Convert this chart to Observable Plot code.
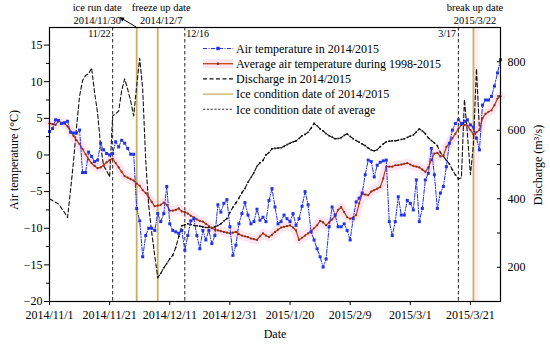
<!DOCTYPE html>
<html><head><meta charset="utf-8">
<script src="https://cdn.jsdelivr.net/npm/d3@7"></script>
<script src="https://cdn.jsdelivr.net/npm/@observablehq/plot@0.6"></script>
<style>
body{margin:0;background:#fff;}
#chart svg text{font-family:"Liberation Serif","Times New Roman",serif;}
</style></head><body><div id="chart"></div>
<script>
// ---------- data ----------
const startDate = "2014-11-01";   // first day of the daily series
const endDate = "2015-03-31";
const airTemp = [3.2,3.6,4.8,4.7,4.3,4.4,4.6,3.1,3.0,3.0,
 3.4,-2.4,-2.4,0.4,-0.2,-0.9,-0.7,1.6,0.7,0.2,
 0.0,0.2,1.8,1.1,2.0,1.6,0.9,0.1,0.1,-7.3,
 -9.0,-13.9,-11.0,-10.0,-10.0,-10.3,-8.0,-9.1,-8.0,-4.3,
 -9.4,-10.3,-10.5,-10.7,-10.3,-13.0,-11.0,-9.0,-8.7,-11.0,
 -12.8,-10.3,-11.6,-10.3,-12.1,-11.0,-6.8,-7.8,-6.6,-6.1,
 -9.8,-13.7,-12.3,-9.4,-8.0,-6.5,-8.2,-9.4,-9.1,-7.4,
 -8.9,-8.5,-9.1,-6.2,-4.6,-7.1,-9.4,-9.1,-8.2,-8.7,
 -9.1,-8.0,-9.6,-8.7,-7.0,-5.0,-6.8,-10.5,-11.6,-12.8,
 -13.9,-15.3,-14.2,-9.8,-7.1,-8.2,-9.8,-9.8,-9.4,-10.3,
 -11.6,-8.7,-6.4,-5.9,-5.2,-2.7,-0.7,-0.9,-3.0,-1.4,
 -1.0,-0.8,-0.7,-9.1,-11.0,-9.1,-5.7,-8.2,-8.2,-6.2,
 -6.6,-7.5,-3.4,-9.1,-7.3,-3.4,-2.5,0.9,-2.7,-7.3,
 -5.2,-4.3,-1.6,1.6,3.4,4.3,4.8,4.3,4.6,4.8,
 4.1,3.8,2.3,0.7,6.8,7.5,7.5,8.0,9.4,11.2,13.0];
const avgTemp = [4.3,4.2,4.1,4.6,4.4,4.3,3.9,3.2,2.6,2.0,
 1.5,0.8,0.1,-0.6,-1.1,-1.5,-1.8,-1.7,-1.4,-1.0,
 -0.7,-0.5,-1.1,-1.7,-2.3,-2.9,-3.1,-3.3,-3.5,-3.9,
 -4.2,-4.8,-5.2,-5.8,-6.4,-7.0,-6.9,-6.8,-6.5,-6.8,
 -7.6,-7.6,-7.5,-7.3,-7.7,-7.8,-8.0,-8.3,-8.5,-8.8,
 -9.0,-9.1,-9.4,-9.7,-10.0,-10.2,-10.3,-10.4,-10.5,-10.6,
 -10.7,-10.6,-10.5,-10.8,-11.0,-11.1,-11.2,-11.4,-11.5,-11.6,
 -11.1,-10.7,-11.0,-11.2,-10.9,-10.5,-10.2,-9.9,-9.8,-9.7,
 -9.6,-9.9,-10.3,-11.6,-11.3,-11.0,-10.7,-10.4,-10.0,-9.6,
 -9.0,-9.2,-9.6,-9.2,-8.8,-8.3,-7.5,-7.1,-7.8,-8.5,
 -8.7,-8.5,-8.2,-6.6,-5.3,-5.4,-5.5,-5.0,-4.8,-4.6,
 -4.4,-3.2,-1.6,-1.6,-1.6,-1.4,-1.4,-1.3,-1.2,-1.1,
 -1.3,-1.5,-1.6,-1.7,-2.0,-2.3,-1.7,-0.7,0.2,0.3,
 -0.2,-0.1,1.1,1.6,2.3,2.9,3.6,4.1,4.1,4.0,
 3.4,2.8,3.1,3.4,5.0,5.6,5.9,6.1,6.8,7.7,8.0];
const discharge = [400,395,390,385,372,360,345,425,510,610,
 700,745,760,765,782,710,650,555,496,482,
 464,642,648,656,715,750,720,685,642,730,
 810,720,511,380,301,234,170,182,198,211,
 225,235,258,290,321,324,327,325,322,321,
 320,318,316,316,316,318,322,327,335,342,
 360,375,388,402,418,430,448,462,476,495,
 505,512,528,535,546,547,548,549,553,558,
 562,566,569,576,584,588,594,606,620,613,
 604,598,590,584,580,575,576,578,585,589,
 582,575,570,565,560,555,548,542,540,543,
 552,560,566,568,569,569,571,573,575,579,
 583,586,595,604,598,590,578,570,563,555,
 535,524,512,502,485,470,458,461,690,590,
 470,560,780,600];
const xTickDates = ["2014-11-01","2014-11-21","2014-12-11","2014-12-31","2015-01-20","2015-02-09","2015-03-01","2015-03-21"];
const xTickLabels = ["2014/11/1","2014/11/21","2014/12/11","2014/12/31","2015/1/20","2015/2/9","2015/3/1","2015/3/21"];
const iceDates2014 = ["2014-11-30","2014-12-07","2015-03-22"];
const eventNames = ["ice run date","freeze up date","break up date"];
const eventLabels = ["2014/11/30","2014/12/7","2015/3/22"];
const iceDatesAvg = ["2014-11-22","2014-12-16","2015-03-17"];
const avgDateLabels = ["11/22","12/16","3/17"];
const breakupBand = ["2015-03-22","2015-03-24"];
const leftTicks = [-20,-15,-10,-5,0,5,10,15];
const leftMinor = [-17.5,-12.5,-7.5,-2.5,2.5,7.5,12.5];
const rightTicks = [200,300,400,500,600,700,800];
const rightLabelled = [200,400,600,800];
const tempDomain = [-20,17.4];
const qDomain = [100,900];
const legendLabels = ["Air temperature in 2014/2015","Average air temperature during 1998-2015","Discharge in 2014/2015","Ice condition date of 2014/2015","Ice condition date of average"];

// ---------- helpers ----------
const day0 = new Date(startDate);
const dayAt = i => d3.utcDay.offset(day0, i);
const toT = q => tempDomain[0] + (q - qDomain[0]) * (tempDomain[1]-tempDomain[0])/(qDomain[1]-qDomain[0]);
const fromT = t => qDomain[0] + (t - tempDomain[0]) * (qDomain[1]-qDomain[0])/(tempDomain[1]-tempDomain[0]);
const tempRows = airTemp.map((v,i)=>({date: dayAt(i), air: v, avg: avgTemp[i]}));
const qRows = discharge.map((q,i)=>({date: dayAt(i), t: toT(q)}));
const tickDates = xTickDates.map(d=>new Date(d));

const BLUE="#2233e8", BROWN="#b8481c", GOLD="#c9b062", PINK="#ffd9ec";

const chart = Plot.plot({
  width: 550, height: 346,
  marginLeft: 49, marginRight: 50, marginTop: 27, marginBottom: 45,
  style: {fontFamily: "Liberation Serif, serif", fontSize: "12px", background: "#fff", color: "#000"},
  x: {type: "utc", domain: [new Date(startDate), new Date(endDate)]},
  y: {domain: tempDomain},
  marks: [
    Plot.rect([breakupBand], {x1: d=>new Date(d[0]), x2: d=>new Date(d[1]), fill: "#fdeef5"}),
    Plot.line(tempRows, {x:"date", y:"avg", stroke: PINK, strokeWidth: 9, strokeOpacity: 0.7}),
    Plot.ruleX(iceDatesAvg.map(d=>new Date(d)), {stroke:"#333", strokeWidth:1.1, strokeDasharray:"3.5,2.5"}),
    Plot.ruleX(iceDates2014.map(d=>new Date(d)), {stroke:GOLD, strokeWidth:1.8}),
    Plot.line(qRows, {x:"date", y:"t", stroke:"#111", strokeWidth:1.1, strokeDasharray:"4,2.5"}),
    Plot.dot(qRows.slice(36,137), {x:"date", y:"t", r:0.9, fill:"#111", symbol:"square"}),
    Plot.line(tempRows, {x:"date", y:"avg", stroke: BROWN, strokeWidth:1.3}),
    Plot.dot(tempRows, {x:"date", y:"avg", r:1.1, fill:"#8a2c10"}),
    Plot.line(tempRows, {x:"date", y:"air", stroke: BLUE, strokeWidth:1, strokeDasharray:"4,1.5,1,1.5"}),
    Plot.dot(tempRows, {x:"date", y:"air", r:1.7, fill: BLUE, symbol:"square"}),
    Plot.axisX(tickDates, {tickSize:4, tickPadding:5, label:null,
      tickFormat: d => xTickLabels[tickDates.findIndex(t=>+t===+d)]}),
    Plot.axisY(leftTicks, {anchor:"left", tickSize:5, tickPadding:2, label:null}),
    Plot.axisY(leftMinor, {anchor:"left", tickSize:3, tickFormat: ()=>"", label:null}),
    Plot.axisY(rightTicks.map(toT), {anchor:"right", tickSize:-4, tickPadding:11, label:null,
      tickFormat: t => { const q = Math.round(fromT(t)); return rightLabelled.includes(q) ? String(q) : ""; }}),
    Plot.frame({stroke:"#000", strokeWidth:1.2})
  ]
});
document.getElementById("chart").appendChild(chart);

// ---------- annotations ----------
const svg = d3.select(chart);
const X = chart.scale("x"), Y = chart.scale("y");
const px = d => X.apply(new Date(d));
const topY = Y.apply(tempDomain[1]);
const g = svg.append("g").attr("font-family","Liberation Serif, serif").attr("fill","#000").attr("text-anchor","start");

const nameDx = [-39, 4, 2];
iceDates2014.forEach((d,i)=>{
  g.append("text").attr("x", px(d)+nameDx[i]).attr("y", topY-19.5).attr("dy","0.35em")
   .attr("text-anchor","middle").attr("font-size",10.5).text(eventNames[i]);
  g.append("text").attr("x", px(d)+nameDx[i]).attr("y", topY-6.5).attr("dy","0.35em")
   .attr("text-anchor","middle").attr("font-size",10.5).text(eventLabels[i]);
});
// arrow from ice run date line top to its label
{
  const x0 = px(iceDates2014[0]), y0 = topY, x1 = x0-17, y1 = topY-10;
  g.append("line").attr("x1",x0).attr("y1",y0).attr("x2",x1+3).attr("y2",y1+1.8).attr("stroke","#000").attr("stroke-width",1);
  const ang = Math.atan2(y1-y0, x1-x0);
  const L=5, W=2.2;
  const bx = x1 - L*Math.cos(ang), by = y1 - L*Math.sin(ang);
  g.append("path").attr("d",`M${x1},${y1}L${bx - W*Math.sin(ang)},${by + W*Math.cos(ang)}L${bx + W*Math.sin(ang)},${by - W*Math.cos(ang)}Z`).attr("fill","#000");
}
const avgAnchor = ["end","start","end"], avgDx = [-1.5, 2, -2];
iceDatesAvg.forEach((d,i)=>{
  g.append("text").attr("x", px(d)+avgDx[i]).attr("y", topY+6.5).attr("dy","0.35em")
   .attr("text-anchor", avgAnchor[i]).attr("font-size",10).text(avgDateLabels[i]);
});

// axis titles
g.append("text").attr("transform","translate(14,160) rotate(-90)").attr("text-anchor","middle").attr("dy","0.35em")
 .attr("font-size",12).text("Air temperature (°C)");
g.append("text").attr("transform","translate(538,165) rotate(-90)").attr("text-anchor","middle").attr("dy","0.35em")
 .attr("font-size",12).text("Discharge (m³/s)");
g.append("text").attr("x",275).attr("y",338).attr("text-anchor","middle").attr("font-size",12).text("Date");

// legend
const lgX0 = 203, lgX1 = 233, lgY0 = 48.5, lgDY = 15.2;
legendLabels.forEach((lab,i)=>{
  const y = lgY0 + i*lgDY;
  const row = g.append("g");
  if (i===0) {
    row.append("line").attr("x1",lgX0).attr("x2",lgX1).attr("y1",y).attr("y2",y).attr("stroke",BLUE).attr("stroke-dasharray","4,1.5,1,1.5");
    row.append("rect").attr("x",(lgX0+lgX1)/2-1.7).attr("y",y-1.7).attr("width",3.4).attr("height",3.4).attr("fill",BLUE);
  } else if (i===1) {
    row.append("rect").attr("x",lgX0).attr("y",y-4.5).attr("width",lgX1-lgX0).attr("height",9).attr("fill",PINK).attr("opacity",0.7);
    row.append("line").attr("x1",lgX0).attr("x2",lgX1).attr("y1",y).attr("y2",y).attr("stroke",BROWN).attr("stroke-width",1.3);
    row.append("circle").attr("cx",(lgX0+lgX1)/2).attr("cy",y).attr("r",1.3).attr("fill","#8a2c10");
  } else if (i===2) {
    row.append("line").attr("x1",lgX0).attr("x2",lgX1).attr("y1",y).attr("y2",y).attr("stroke","#111").attr("stroke-width",1.1).attr("stroke-dasharray","4,2.5");
  } else if (i===3) {
    row.append("line").attr("x1",lgX0).attr("x2",lgX1).attr("y1",y).attr("y2",y).attr("stroke",GOLD).attr("stroke-width",1.3);
  } else {
    row.append("line").attr("x1",lgX0).attr("x2",lgX1).attr("y1",y).attr("y2",y).attr("stroke","#333").attr("stroke-width",1.1).attr("stroke-dasharray","2.2,1.6");
  }
  row.append("text").attr("x",236).attr("y",y).attr("dy","0.35em").attr("text-anchor","start").attr("font-size",12).text(lab);
});
</script></body></html>
